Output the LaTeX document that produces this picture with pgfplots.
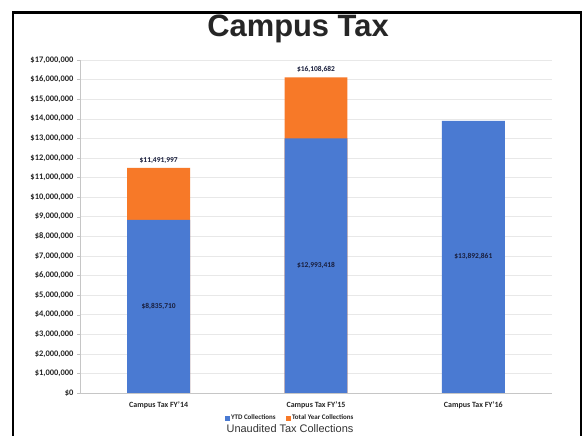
\documentclass[border=0pt]{standalone}
\usepackage{pgfplots}
\pgfplotsset{compat=1.18}
\usepackage{fontspec}
\setmainfont{Carlito}
\newfontfamily\titlefont{Liberation Sans}
\definecolor{ytd}{RGB}{74,122,210}
\definecolor{tot}{RGB}{247,121,40}
\definecolor{lbl}{RGB}{25,30,60}
\begin{document}
\begin{tikzpicture}[x=1bp,y=1bp]
\useasboundingbox (0,0) rectangle (583,436);
\fill[white] (0,0) rectangle (583,436);
\draw[line width=2.5bp] (13,0) -- (13,423.5) -- (581,423.5) -- (581,0);
\node[font=\titlefont\bfseries\fontsize{31}{34}\selectfont, text=black!85, anchor=base] at (298,399) {Campus Tax};
\node[font=\titlefont\fontsize{11}{13}\selectfont, text=black!80, anchor=base] at (290,3) {Unaudited Tax Collections};
\begin{axis}[at={(80bp,43bp)}, anchor=south west, scale only axis,
  width=472bp, height=333bp,
  xmin=-0.5, xmax=2.5, ymin=0, ymax=17000000,
  xtick={0,1,2},
  xticklabels={Campus Tax FY'14, Campus Tax FY'15, Campus Tax FY'16},
  xtick style={draw=none},
  ytick={0,1000000,...,17000000},
  scaled y ticks=false,
  /pgf/number format/assume math mode=true,
  yticklabel={\$\pgfmathprintnumber[fixed,precision=0,1000 sep={,}]{\tick}},
  yticklabel style={font=\bfseries\fontsize{8.5}{10}\selectfont, text=black!85},
  xticklabel style={font=\bfseries\fontsize{8}{10}\selectfont, text=black!85, yshift=-2bp},
  axis x line*=bottom, axis y line*=left,
  axis line style={gray!45, -},
  ytick style={gray!50}, tick align=outside, major tick length=3bp,
  ymajorgrids, grid style={gray!18, line width=0.5bp},
  legend columns=2,
  legend style={at={(0.445,-0.075)}, anchor=center, draw=none, fill=none,
    font=\bfseries\fontsize{7}{9}\selectfont, text=black!85,
    /tikz/every even column/.append style={column sep=8bp}},
]
\addlegendimage{legend image code/.code={\fill[ytd] (0bp,-2bp) rectangle (4bp,2bp);}}
\addlegendentry{YTD Collections}
\addlegendimage{legend image code/.code={\fill[tot] (0bp,-2bp) rectangle (4bp,2bp);}}
\addlegendentry{Total Year Collections}
\addplot[ybar, bar width=0.4, bar shift=0pt, fill=tot, draw=none, forget plot,
  nodes near coords, point meta=explicit symbolic,
  every node near coord/.append style={font=\bfseries\fontsize{7.5}{9}\selectfont, text=lbl, anchor=south, yshift=1bp}]
  coordinates {(0,11491997) [\$11,491,997] (1,16108682) [\$16,108,682]};
\addplot[ybar, bar width=0.4, bar shift=0pt, fill=ytd, draw=none, forget plot]
  coordinates {(0,8835710) (1,12993418) (2,13892861)};
\addplot[draw=none, mark=none, forget plot,
  nodes near coords, point meta=explicit symbolic,
  every node near coord/.append style={font=\bfseries\fontsize{7.5}{9}\selectfont, text=lbl, anchor=center}]
  coordinates {(0,4417855) [\$8,835,710] (1,6496709) [\$12,993,418] (2,6946430) [\$13,892,861]};
\end{axis}
\end{tikzpicture}
\end{document}
